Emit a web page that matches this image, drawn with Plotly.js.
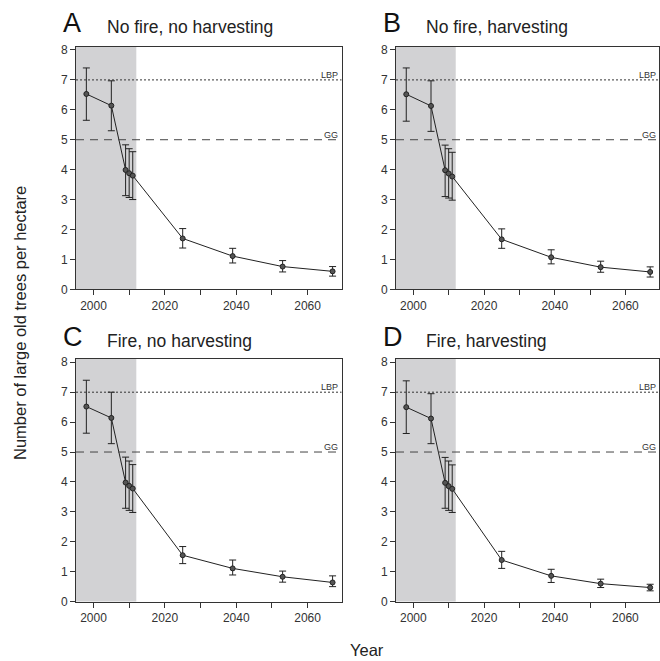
<!DOCTYPE html>
<html>
<head>
<meta charset="utf-8">
<script src="https://cdn.plot.ly/plotly-3.0.1.min.js"></script>
<style>html,body{margin:0;padding:0;background:#fff;}#chart{width:660px;height:661px;}</style>
</head>
<body>
<div id="chart"></div>
<script>
const years = [1998, 2005, 2009, 2010, 2011, 2025, 2039, 2053, 2067];

const meanA  = [6.53, 6.14, 3.99, 3.88, 3.80, 1.70, 1.11, 0.76, 0.60];
const upperA = [7.40, 6.97, 4.83, 4.70, 4.60, 2.03, 1.37, 0.96, 0.76];
const lowerA = [5.65, 5.30, 3.13, 3.07, 3.00, 1.38, 0.88, 0.58, 0.44];

const meanB  = [6.52, 6.13, 3.98, 3.87, 3.77, 1.67, 1.07, 0.74, 0.58];
const upperB = [7.40, 6.97, 4.82, 4.70, 4.58, 2.02, 1.32, 0.94, 0.75];
const lowerB = [5.62, 5.28, 3.10, 3.05, 2.98, 1.37, 0.85, 0.57, 0.41];

const meanC  = [6.52, 6.14, 3.98, 3.87, 3.78, 1.55, 1.11, 0.83, 0.64];
const upperC = [7.40, 7.00, 4.83, 4.70, 4.58, 1.84, 1.39, 1.02, 0.86];
const lowerC = [5.63, 5.28, 3.12, 3.05, 2.98, 1.27, 0.89, 0.65, 0.50];

const meanD  = [6.50, 6.12, 3.97, 3.86, 3.77, 1.39, 0.86, 0.60, 0.47];
const upperD = [7.38, 6.95, 4.82, 4.70, 4.57, 1.68, 1.08, 0.75, 0.58];
const lowerD = [5.62, 5.28, 3.12, 3.05, 2.98, 1.11, 0.64, 0.47, 0.36];

const panelLetters = ["A", "B", "C", "D"];
const panelTitles = ["No fire, no harvesting", "No fire, harvesting", "Fire, no harvesting", "Fire, harvesting"];

const xTickVals = [2000, 2010, 2020, 2030, 2040, 2050, 2060];
const xTickText = ["2000", "", "2020", "", "2040", "", "2060"];
const yTickVals = [0, 1, 2, 3, 4, 5, 6, 7, 8];

const refLBP = 7;
const refGG = 5;
const shadeStart = 1995.1;
const shadeEnd = 2012;

const series = [
  [meanA, upperA, lowerA],
  [meanB, upperB, lowerB],
  [meanC, upperC, lowerC],
  [meanD, upperD, lowerD]
];

const W = 660, H = 661;
const xDomains = [[76 / W, 341.5 / W], [396 / W, 659 / W]];
const yDomains = [[1 - 289.3 / H, 1 - 46.7 / H], [1 - 601.6 / H, 1 - 359 / H]];
const xRange = [1995.1, 2069.5];
const yRange = [0, 8.11];

const dark = "#222";
const tickFont = {family: "Liberation Sans, Arial, sans-serif", size: 12, color: "#333"};

const traces = [];
const layout = {
  width: W, height: H,
  margin: {l: 0, r: 0, t: 0, b: 0},
  paper_bgcolor: "#fff",
  plot_bgcolor: "rgba(0,0,0,0)",
  showlegend: false,
  font: {family: "Liberation Sans, Arial, sans-serif", color: "#222"},
  shapes: [],
  annotations: []
};

for (let i = 0; i < 4; i++) {
  const col = i % 2, row = Math.floor(i / 2);
  const sx = i === 0 ? "" : String(i + 1);
  const xa = "x" + sx, ya = "y" + sx;
  const [m, u, l] = series[i];
  traces.push({
    type: "scatter", mode: "lines+markers",
    x: years, y: m, xaxis: xa, yaxis: ya,
    line: {color: dark, width: 1},
    marker: {symbol: "circle", size: 5, color: "#555", line: {color: dark, width: 1}},
    error_y: {
      type: "data", symmetric: false,
      array: u.map((v, k) => v - m[k]),
      arrayminus: m.map((v, k) => v - l[k]),
      color: dark, thickness: 1, width: 3.5
    },
    hoverinfo: "skip"
  });
  layout["xaxis" + sx] = {
    domain: xDomains[col], range: xRange, anchor: ya,
    showline: true, mirror: true, linecolor: "#333", linewidth: 1,
    showgrid: false, zeroline: false,
    tickmode: "array", tickvals: xTickVals, ticktext: xTickText,
    ticks: "outside", ticklen: 5, tickcolor: "#333", tickfont: tickFont
  };
  layout["yaxis" + sx] = {
    domain: yDomains[row], range: yRange, anchor: xa,
    showline: true, mirror: true, linecolor: "#333", linewidth: 1,
    showgrid: false, zeroline: false,
    tickmode: "array", tickvals: yTickVals,
    ticks: "outside", ticklen: 5, tickcolor: "#333", tickfont: tickFont
  };
  layout.shapes.push({
    type: "rect", xref: xa, yref: ya + " domain",
    x0: shadeStart, x1: shadeEnd, y0: 0, y1: 1,
    fillcolor: "#d2d2d4", line: {width: 0}, layer: "below"
  });
  layout.shapes.push({
    type: "line", xref: xa + " domain", yref: ya,
    x0: 0, x1: 1, y0: refLBP, y1: refLBP,
    line: {color: "#333", width: 1, dash: "2px,2px"}, layer: "above"
  });
  layout.shapes.push({
    type: "line", xref: xa + " domain", yref: ya,
    x0: 0, x1: 1, y0: refGG, y1: refGG,
    line: {color: "#444", width: 1, dash: "8px,6px"}, layer: "above"
  });
  layout.annotations.push({
    xref: xa + " domain", yref: ya, x: 0.995, y: refLBP,
    xanchor: "right", yanchor: "bottom", text: "LBP", showarrow: false,
    font: {size: 9, color: "#333"}, yshift: -2
  });
  layout.annotations.push({
    xref: xa + " domain", yref: ya, x: 0.995, y: refGG,
    xanchor: "right", yanchor: "bottom", text: "GG", showarrow: false,
    font: {size: 9, color: "#333"}, yshift: -2
  });
  const letterX = col === 0 ? 61 : 381;
  const titleX = col === 0 ? 105 : 424;
  const topY = row === 0 ? 23 : 337;
  layout.annotations.push({
    xref: "paper", yref: "paper", x: letterX / W, y: 1 - topY / H,
    xanchor: "left", yanchor: "middle", text: panelLetters[i], showarrow: false,
    font: {size: 27, color: "#111"}
  });
  layout.annotations.push({
    xref: "paper", yref: "paper", x: titleX / W, y: 1 - (topY + 4) / H,
    xanchor: "left", yanchor: "middle", text: panelTitles[i], showarrow: false,
    font: {size: 17.5, color: "#222"}
  });
}

layout.annotations.push({
  xref: "paper", yref: "paper", x: 20 / W, y: 1 - 323 / H,
  xanchor: "center", yanchor: "middle", textangle: -90,
  text: "Number of large old trees per hectare", showarrow: false,
  font: {size: 16.5, color: "#222"}
});
layout.annotations.push({
  xref: "paper", yref: "paper", x: 367 / W, y: 1 - 650 / H,
  xanchor: "center", yanchor: "middle",
  text: "Year", showarrow: false,
  font: {size: 16.5, color: "#222"}
});

Plotly.newPlot("chart", traces, layout, {staticPlot: true, displayModeBar: false});
</script>
</body>
</html>
